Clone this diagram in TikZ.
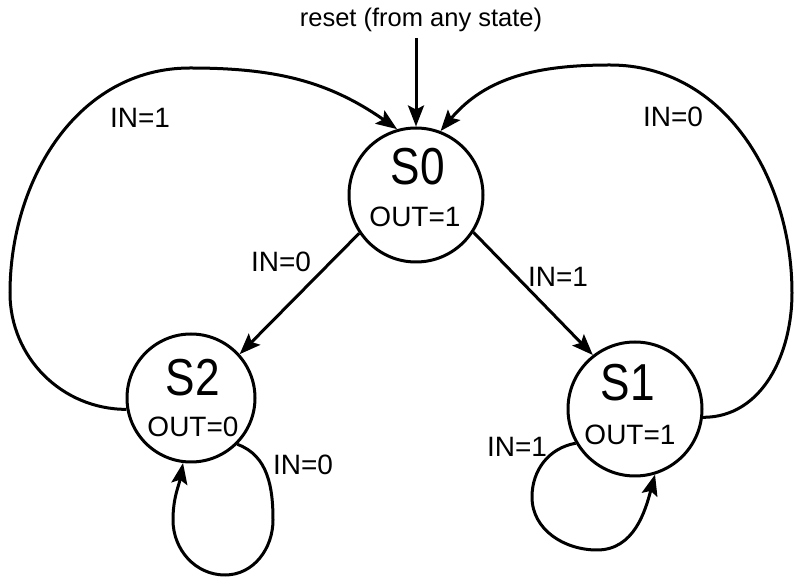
\documentclass[tikz,border=0pt]{standalone}
\usepackage{fontspec}
\setmainfont{Liberation Sans}
\usetikzlibrary{arrows.meta}
\tikzset{
  state/.style={draw, circle, line width=3pt, minimum size=#1, inner sep=0pt},
  conn/.style={line width=3pt, -{Stealth[length=21pt,width=16pt,inset=4pt]}},
  lbl/.style={inner sep=0pt, font=\fontsize{28}{30}\selectfont},
  sname/.style={inner sep=0pt, font=\fontsize{52}{54}\selectfont},
  outlbl/.style={inner sep=0pt, font=\fontsize{28}{30}\selectfont},
  rst/.style={inner sep=0pt, font=\fontsize{25.5}{27}\selectfont}
}
\begin{document}
\begin{tikzpicture}[x=1pt,y=1pt]
\useasboundingbox (0,0) rectangle (796,581);
% states
\node[state=134] (s0) at (416,386) {};
\node[state=128] (s2) at (191,183) {};
\node[state=134] (s1) at (635,172) {};
% state texts
\node[sname] (s0name) at (418,414) {\scalebox{0.85}[1]{S0}};
\node[outlbl] (s0out) at (415,364) {OUT=1};
\node[sname] (s2name) at (193,203) {\scalebox{0.85}[1]{S2}};
\node[outlbl] (s2out) at (193,154) {OUT=0};
\node[sname] (s1name) at (628,198) {\scalebox{0.85}[1]{S1}};
\node[outlbl] (s1out) at (630,146) {OUT=1};
% reset
\node[rst] (rtext) at (421,561) {reset (from any state)};
\coordinate (rs) at (416,543);
\draw[conn] (rs) -- (s0.north);
% straight transitions
\draw[conn] (s0.214) -- (s2.42);
\draw[conn] (s0.-33) -- (s1.128);
% big arcs
\draw[conn] (s2.190) to[out=180,in=270] (10,288) to[out=90,in=180] (190,513) to[out=0,in=145] (s0.106);
\draw[conn] (s1.-7) to[out=0,in=270] (792,288) to[out=90,in=0] (610,516) to[out=180,in=50] (s0.69);
% self loops
\draw[conn] (s2.-45) to[out=-20,in=90] (273,61) to[out=270,in=0] (225,6) to[out=180,in=270] (173,61) to[out=90,in=260] (s2.-97);
\draw[conn] (s1.210) to[out=190,in=90] (532,84) to[out=270,in=180] (597,31) to[out=0,in=255] (s1.-73);
% labels
\node[lbl] (l1) at (140,463) {IN=1};
\node[lbl] (l2) at (673,464) {IN=0};
\node[lbl] (l3) at (281,319) {IN=0};
\node[lbl] (l4) at (558,304) {IN=1};
\node[lbl] (l5) at (303,116) {IN=0};
\node[lbl] (l6) at (517,134) {IN=1};
\end{tikzpicture}
\end{document}
